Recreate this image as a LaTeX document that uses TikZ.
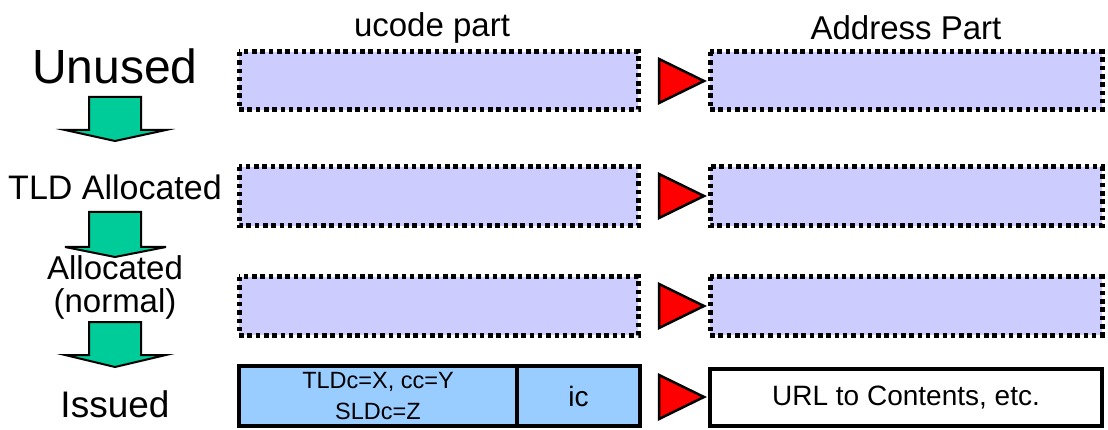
\documentclass[tikz,border=0pt]{standalone}
\usepackage{fontspec}
\setmainfont{Liberation Sans}
\begin{document}
\begin{tikzpicture}[x=1pt,y=-1pt,
  every node/.style={inner sep=0pt, outer sep=0pt},
  emptybox/.style={draw=black, fill=lavender, line width=5pt,
    dash pattern=on 4.5pt off 3.8pt},
  fullbox/.style={draw=black, line width=4.5pt},
  pointer/.style={draw=black, fill=red, line width=2.5pt, line join=miter},
  stagearrow/.style={draw=black, fill=stagegreen, line width=2pt, line join=miter},
  stagelabel/.style={align=center, font=\fontsize{34}{37}\selectfont},
  header/.style={font=\fontsize{33}{37}\selectfont}]
\definecolor{lavender}{HTML}{CCCCFF}
\definecolor{issuedblue}{HTML}{99CCFF}
\definecolor{stagegreen}{HTML}{00CC99}
\useasboundingbox (0,0) rectangle (1108,430);

% column headers
\node[header] (hu) at (432,28) {ucode part};
\node[header] (ha) at (906,28) {Address Part};

% stage labels
\node[stagelabel, font=\fontsize{48}{52}\selectfont] (s1) at (115,66) {Unused};
\node[stagelabel] (s2) at (115,187) {TLD Allocated};
\node[stagelabel, font=\fontsize{33}{33}\selectfont] (s3) at (115,287) {Allocated\\(normal)};
\node[stagelabel, font=\fontsize{37}{40}\selectfont] (s4) at (115,404) {Issued};

% green block arrows between stages
\foreach \top/\neck/\tip in {97/130/141, 212/247/257, 322/355/367}{
  \draw[stagearrow] (89,\top) -- (141,\top) -- (141,\neck) -- (166,\neck)
    -- (115,\tip) -- (65,\neck) -- (89,\neck) -- cycle;
}

% empty ucode / address boxes (unused, TLD allocated, allocated)
\foreach \r/\ya/\yb in {1/52/110, 2/167/226, 3/277/335}{
  \path[emptybox] (239,\ya) rectangle (638,\yb);
  \node (u\r) at (438.5,{(\ya+\yb)/2}) {};
  \path[emptybox] (710,\ya) rectangle (1102,\yb);
  \node (a\r) at (906,{(\ya+\yb)/2}) {};
}

% issued ucode
\node[fullbox, fill=issuedblue, minimum width=278pt, minimum height=60pt,
  anchor=north west, align=center, font=\fontsize{23.5}{31}\selectfont]
  (u4a) at (239,366) {TLDc=X, cc=Y\\SLDc=Z};
\node[fullbox, fill=issuedblue, minimum width=123pt, minimum height=60pt,
  anchor=north west, font=\fontsize{28}{30}\selectfont]
  (u4b) at (u4a.north east) {ic};
\node[fullbox, fill=white, minimum width=392pt, minimum height=57pt,
  anchor=north west, font=\fontsize{28}{30}\selectfont]
  (a4) at (710,369) {URL to Contents, etc.};

% red pointers from ucode to address
\foreach \y in {81,196,306,397}{
  \draw[pointer] (659,{\y-22}) -- (704,\y) -- (659,{\y+22}) -- cycle;
}
\end{tikzpicture}
\end{document}
